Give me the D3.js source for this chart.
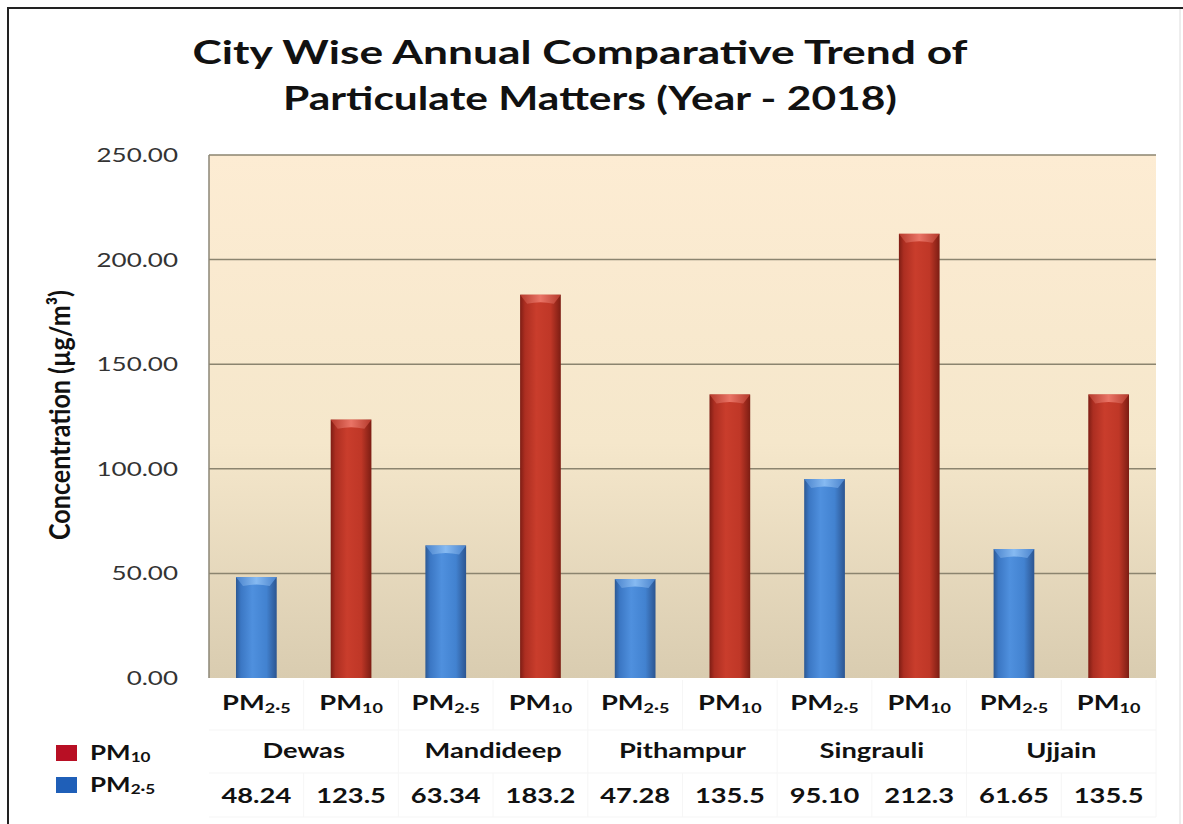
<!DOCTYPE html>
<html>
<head>
<meta charset="utf-8">
<script src="https://cdn.jsdelivr.net/npm/d3@7"></script>
<style>
  html, body { margin: 0; padding: 0; background: #fff; }
  svg { display: block; font-family: Lato, "Open Sans", sans-serif; }
</style>
</head>
<body>
<svg id="chart" width="1183" height="824"></svg>
<script>
// data
const cities = ["Dewas", "Mandideep", "Pithampur", "Singrauli", "Ujjain"];
const series = ["PM2.5", "PM10"];
const pm25 = [48.24, 63.34, 47.28, 95.10, 61.65];
const pm10 = [123.5, 183.2, 135.5, 212.3, 135.5];
const yTicks = [0, 50, 100, 150, 200, 250];

const titleLines = ["City Wise Annual Comparative Trend of", "Particulate Matters (Year - 2018)"];
const yTitle = "Concentration (µg/m³)";

// the source image is stretched sideways, so text gets the same stretch
const SX = 1.3;

const svg = d3.select("#chart");
const plot = {left: 209, right: 1156, top: 155, bottom: 678};

const rows = cities.map((c, i) => ({city: c, vals: [pm25[i], pm10[i]]}));

const x0 = d3.scaleBand().domain(cities).range([plot.left, plot.right]);
const x1 = d3.scaleBand().domain(series).range([0, x0.bandwidth()]);
const y = d3.scaleLinear().domain([0, 250]).range([plot.bottom, plot.top]);
const barW = x1.bandwidth() * 0.43;

const colors = {"PM2.5": "blue", "PM10": "red"};

// gradients
const defs = svg.append("defs");
const bg = defs.append("linearGradient").attr("id", "bg").attr("x1", 0).attr("y1", 0).attr("x2", 0).attr("y2", 1);
bg.append("stop").attr("offset", "0%").attr("stop-color", "#fdecd3");
bg.append("stop").attr("offset", "55%").attr("stop-color", "#f5e7cb");
bg.append("stop").attr("offset", "100%").attr("stop-color", "#d9ccb0");

function barGrad(id, stops) {
  const g = defs.append("linearGradient").attr("id", id).attr("x1", 0).attr("y1", 0).attr("x2", 1).attr("y2", 0);
  stops.forEach(s => g.append("stop").attr("offset", s[0]).attr("stop-color", s[1]));
}
barGrad("blue", [["0%", "#2c5893"], ["12%", "#3b77c4"], ["40%", "#4f90de"], ["75%", "#4282d0"], ["100%", "#2c5591"]]);
barGrad("red", [["0%", "#7e1d14"], ["12%", "#ac2e21"], ["40%", "#c93d2c"], ["75%", "#bf3727"], ["100%", "#7c1d13"]]);
barGrad("blueTop", [["0%", "#4a83cc"], ["50%", "#86baf2"], ["100%", "#4a83cc"]]);
barGrad("redTop", [["0%", "#b53a2c"], ["50%", "#ea7466"], ["100%", "#b53a2c"]]);

// outer frame
svg.append("line").attr("x1", 7).attr("x2", 1183).attr("y1", 8).attr("y2", 8).attr("stroke", "#222").attr("stroke-width", 2);
svg.append("line").attr("x1", 8).attr("x2", 8).attr("y1", 7).attr("y2", 824).attr("stroke", "#222").attr("stroke-width", 2);
svg.append("line").attr("x1", 1180).attr("x2", 1180).attr("y1", 9).attr("y2", 824).attr("stroke", "#dcdcdc").attr("stroke-width", 1);

// title
svg.selectAll(".title")
  .data(titleLines)
  .enter().append("text")
    .attr("class", "title")
    .attr("x", (d, i) => i === 0 ? 580 : 590)
    .attr("y", (d, i) => 64 + i * 46)
    .attr("text-anchor", "middle")
    .attr("font-size", 32)
    .attr("font-weight", "bold")
    .attr("fill", "#111")
    .attr("textLength", (d, i) => i === 0 ? 775 : 614)
    .attr("lengthAdjust", "spacingAndGlyphs")
    .text(d => d);

// plot background
svg.append("rect")
  .attr("x", plot.left).attr("y", plot.top)
  .attr("width", plot.right - plot.left).attr("height", plot.bottom - plot.top)
  .attr("fill", "url(#bg)");

// gridlines
svg.append("g").selectAll("line")
  .data(yTicks.filter(d => d > 0))
  .enter().append("line")
    .attr("x1", plot.left).attr("x2", plot.right)
    .attr("y1", d => y(d)).attr("y2", d => y(d))
    .attr("stroke", "#8b846f").attr("stroke-width", 1.5);
svg.append("line").attr("x1", plot.left).attr("x2", plot.left).attr("y1", plot.top).attr("y2", plot.bottom)
  .attr("stroke", "#8b8676").attr("stroke-width", 1.5);

// y axis labels
const yAxis = svg.append("g")
  .attr("transform", `translate(${plot.left},0)`)
  .call(d3.axisLeft(y).tickValues(yTicks).tickFormat(d3.format(".2f")).tickSize(0));
yAxis.select(".domain").remove();
yAxis.selectAll("text")
  .attr("x", -31 / SX)
  .attr("transform", `scale(${SX},1)`)
  .attr("font-family", "Lato, sans-serif")
  .attr("font-size", 20)
  .attr("fill", "#333");

// y axis title
svg.append("text")
  .attr("transform", `translate(70,415) scale(${SX},1) rotate(-90)`)
  .attr("text-anchor", "middle")
  .attr("font-size", 22)
  .attr("font-weight", "bold")
  .attr("fill", "#111")
  .attr("textLength", 250)
  .attr("lengthAdjust", "spacingAndGlyphs")
  .text(yTitle);

// bars
const grp = svg.append("g").selectAll("g")
  .data(rows)
  .enter().append("g")
    .attr("transform", d => `translate(${x0(d.city)},0)`);

const bar = grp.selectAll("g")
  .data(d => d.vals.map((v, i) => ({key: series[i], value: v})))
  .enter().append("g")
    .attr("transform", d => `translate(${x1(d.key) + (x1.bandwidth() - barW) / 2},0)`);

bar.append("rect")
  .attr("x", 0)
  .attr("y", d => y(d.value))
  .attr("width", barW)
  .attr("height", d => y(0) - y(d.value))
  .attr("fill", d => `url(#${colors[d.key]})`);

bar.append("path")
  .attr("d", d => {
    const t = y(d.value);
    return `M0,${t} L${barW},${t} L${barW - 7},${t + 9} Q${barW / 2},${t + 6} 7,${t + 9} Z`;
  })
  .attr("fill", d => `url(#${colors[d.key]}Top)`);

// data table
const table = svg.append("g");
const slots = [];
rows.forEach(r => series.forEach((s, i) => slots.push({city: r.city, key: s, value: r.vals[i]})));
const slotX = d => x0(d.city) + x1(d.key) + x1.bandwidth() / 2;

// faint table lines
[730, 773, 817].forEach(yy => table.append("line")
  .attr("x1", plot.left).attr("x2", plot.right).attr("y1", yy).attr("y2", yy)
  .attr("stroke", "#f5f5f5"));
slots.forEach(d => {
  const xx = x0(d.city) + x1(d.key) + x1.bandwidth();
  table.append("line").attr("x1", xx).attr("x2", xx).attr("y1", 680).attr("y2", 730).attr("stroke", "#f6f6f6");
  table.append("line").attr("x1", xx).attr("x2", xx).attr("y1", 773).attr("y2", 817).attr("stroke", "#f6f6f6");
});
cities.forEach(c => {
  const xx = x0(c) + x0.bandwidth();
  table.append("line").attr("x1", xx).attr("x2", xx).attr("y1", 730).attr("y2", 773).attr("stroke", "#f6f6f6");
});

function pmLabel(sel, key, size) {
  sel.append("tspan").text("PM");
  sel.append("tspan")
    .attr("font-size", size * 0.66)
    .attr("dy", size * 0.12)
    .text(key === "PM10" ? "10" : "2·5");
}

// row 1: series names
table.selectAll(".ser")
  .data(slots)
  .enter().append("text")
    .attr("class", "ser")
    .attr("transform", d => `translate(${slotX(d)},710) scale(${SX},1)`)
    .attr("text-anchor", "middle")
    .attr("font-size", 21)
    .attr("font-weight", "bold")
    .attr("fill", "#111")
    .each(function(d) { pmLabel(d3.select(this), d.key, 21); });

// row 2: cities
table.selectAll(".city")
  .data(cities)
  .enter().append("text")
    .attr("class", "city")
    .attr("transform", d => `translate(${x0(d) + x0.bandwidth() / 2},758) scale(${SX},1)`)
    .attr("text-anchor", "middle")
    .attr("font-size", 21)
    .attr("font-weight", "bold")
    .attr("fill", "#111")
    .text(d => d);

// row 3: values
table.selectAll(".val")
  .data(slots)
  .enter().append("text")
    .attr("class", "val")
    .attr("transform", d => `translate(${slotX(d)},803) scale(${SX},1)`)
    .attr("text-anchor", "middle")
    .attr("font-size", 21)
    .attr("font-weight", "bold")
    .attr("fill", "#111")
    .text(d => d.key === "PM10" ? d.value.toFixed(1) : d.value.toFixed(2));

// legend
const legend = svg.append("g").selectAll("g")
  .data([{key: "PM10", color: "#b80f24"}, {key: "PM2.5", color: "#1f5fb8"}])
  .enter().append("g")
    .attr("transform", (d, i) => `translate(56,${745 + i * 32})`);
legend.append("rect").attr("width", 21).attr("height", 16).attr("fill", d => d.color);
legend.append("text")
  .attr("transform", `translate(34,15) scale(${SX},1)`)
  .attr("font-size", 20)
  .attr("font-weight", "bold")
  .attr("fill", "#111")
  .each(function(d) { pmLabel(d3.select(this), d.key, 20); });
</script>
</body>
</html>
